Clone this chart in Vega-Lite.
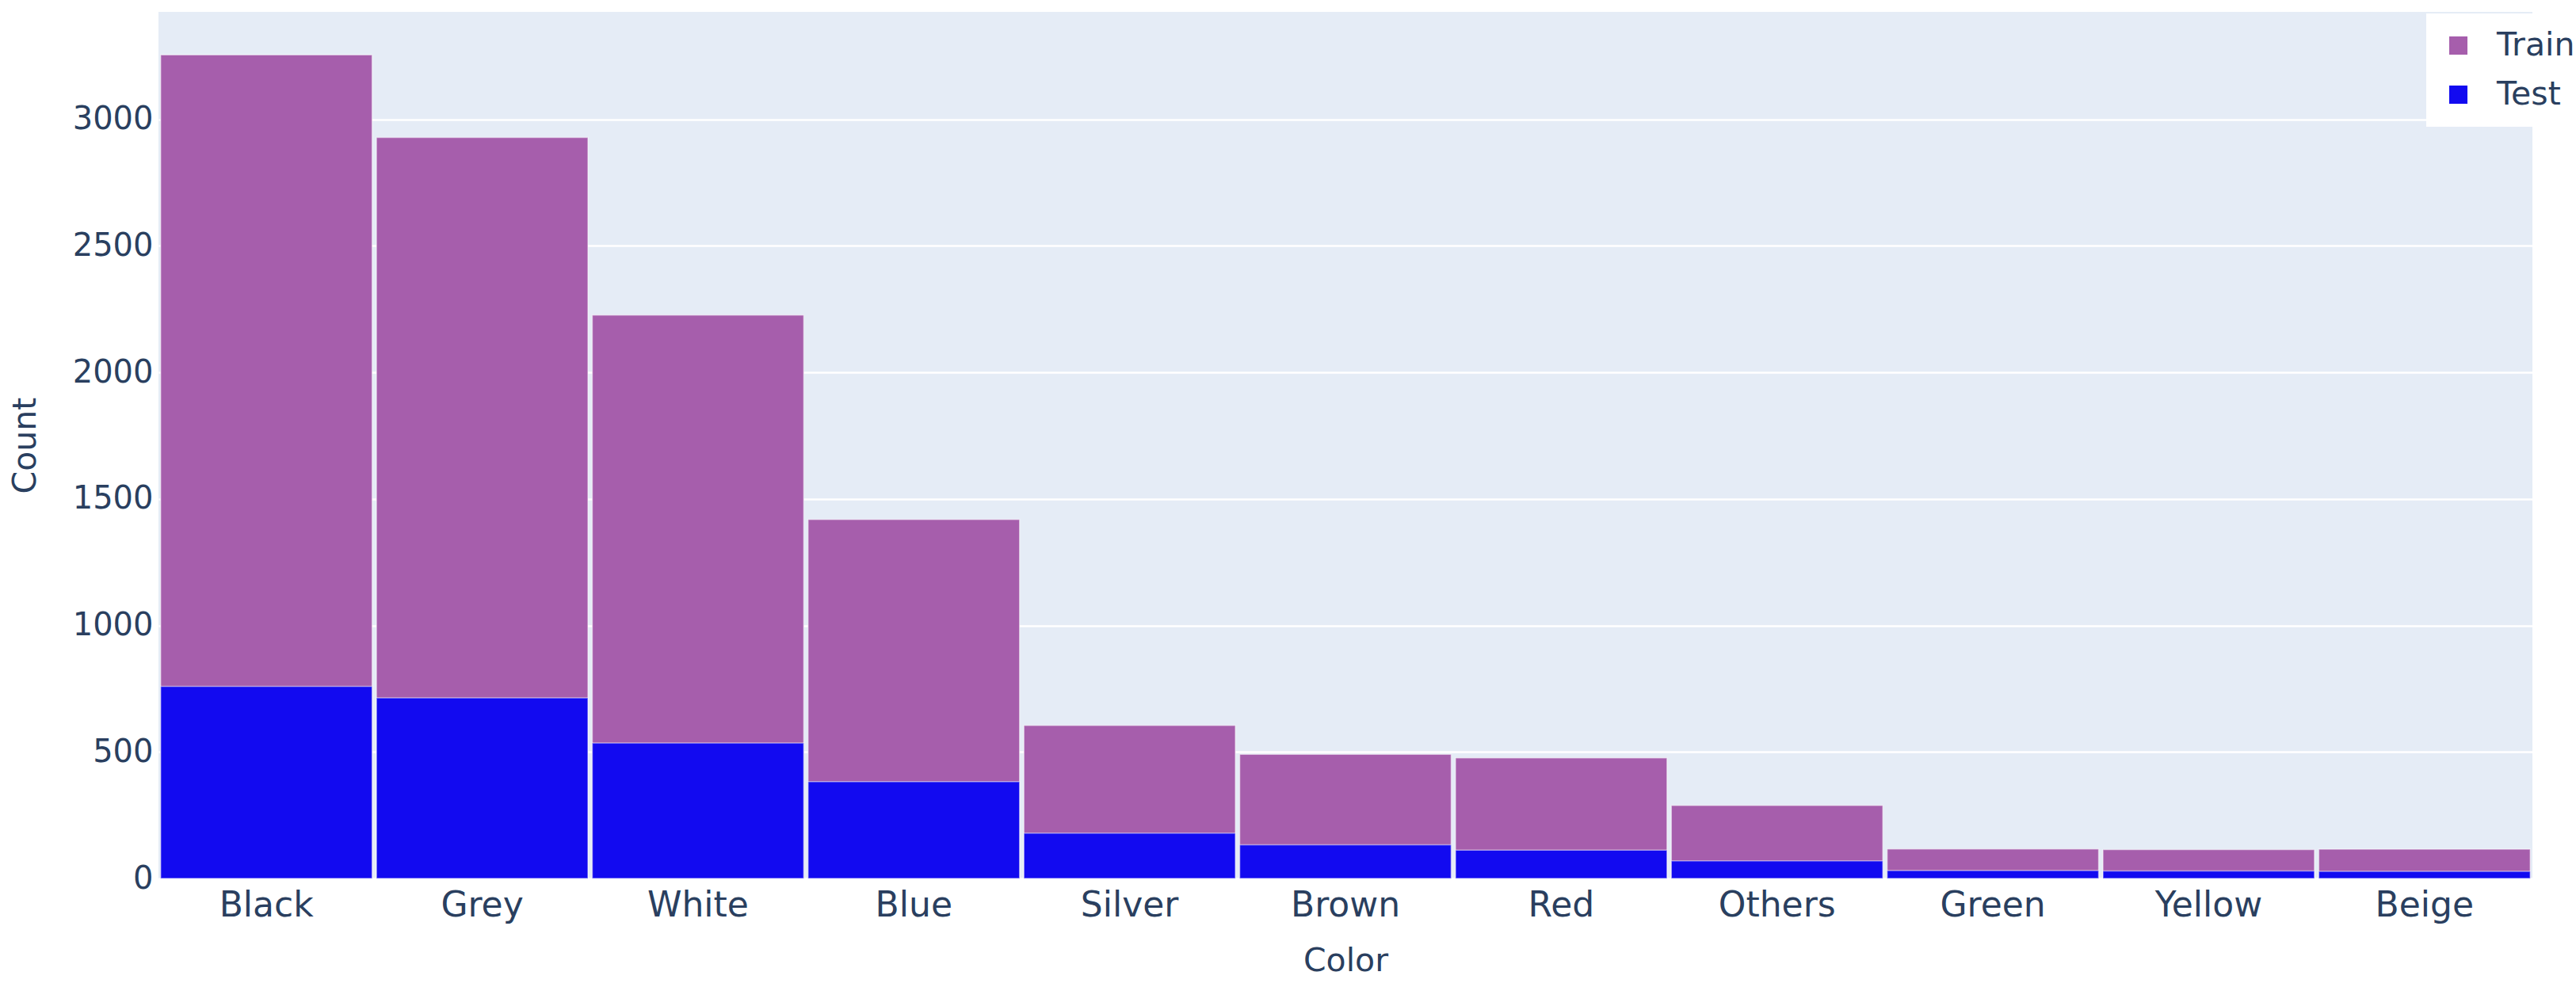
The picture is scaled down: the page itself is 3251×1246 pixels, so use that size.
{
  "$schema": "https://vega.github.io/schema/vega-lite/v6.json",
  "autosize": "none",
  "padding": {"left": 200, "top": 15, "right": 55, "bottom": 137},
  "width": 2996,
  "height": 1094,
  "background": "#ffffff",
  "config": {
    "view": {"fill": "#E5ECF6", "stroke": null},
    "font": "DejaVu Sans"
  },
  "data": {
    "values": [
      {"Color": "Black", "Set": "Train", "Count": 3255},
      {"Color": "Grey", "Set": "Train", "Count": 2929},
      {"Color": "White", "Set": "Train", "Count": 2227},
      {"Color": "Blue", "Set": "Train", "Count": 1419},
      {"Color": "Silver", "Set": "Train", "Count": 605},
      {"Color": "Brown", "Set": "Train", "Count": 491},
      {"Color": "Red", "Set": "Train", "Count": 477},
      {"Color": "Others", "Set": "Train", "Count": 289},
      {"Color": "Green", "Set": "Train", "Count": 117},
      {"Color": "Yellow", "Set": "Train", "Count": 114},
      {"Color": "Beige", "Set": "Train", "Count": 116},
      {"Color": "Black", "Set": "Test", "Count": 759},
      {"Color": "Grey", "Set": "Test", "Count": 714},
      {"Color": "White", "Set": "Test", "Count": 535},
      {"Color": "Blue", "Set": "Test", "Count": 383},
      {"Color": "Silver", "Set": "Test", "Count": 179},
      {"Color": "Brown", "Set": "Test", "Count": 133},
      {"Color": "Red", "Set": "Test", "Count": 112},
      {"Color": "Others", "Set": "Test", "Count": 70},
      {"Color": "Green", "Set": "Test", "Count": 31},
      {"Color": "Yellow", "Set": "Test", "Count": 30},
      {"Color": "Beige", "Set": "Test", "Count": 28}
    ]
  },
  "mark": {"type": "bar", "stroke": "#ffffff", "strokeWidth": 1.5, "strokeOpacity": 0.5},
  "encoding": {
    "x": {
      "field": "Color",
      "type": "nominal",
      "sort": null,
      "scale": {"paddingInner": 0.02, "paddingOuter": 0.01},
      "axis": {
        "title": "Color",
        "labelAngle": 0,
        "labelFontSize": 44,
        "labelColor": "#2a3f5f",
        "labelPadding": 12,
        "titleFontSize": 41,
        "titleFontWeight": "normal",
        "titleColor": "#2a3f5f",
        "titlePadding": 28,
        "domain": false,
        "ticks": false,
        "grid": false
      }
    },
    "y": {
      "field": "Count",
      "type": "quantitative",
      "stack": null,
      "scale": {"domain": [0, 3425], "nice": false},
      "axis": {
        "title": "Count",
        "format": "d",
        "values": [0, 500, 1000, 1500, 2000, 2500, 3000],
        "labelFontSize": 40,
        "labelColor": "#2a3f5f",
        "labelPadding": 7,
        "titleFontSize": 41,
        "titleFontWeight": "normal",
        "titleColor": "#2a3f5f",
        "titlePadding": 38,
        "domain": false,
        "ticks": false,
        "grid": true,
        "gridColor": "#ffffff",
        "gridWidth": 2.6
      }
    },
    "color": {
      "field": "Set",
      "type": "nominal",
      "scale": {"domain": ["Train", "Test"], "range": ["#A65EAC", "#120AF0"]},
      "legend": {
        "title": null,
        "orient": "none",
        "legendX": 2862,
        "legendY": 2,
        "fillColor": "#ffffff",
        "padding": 20,
        "symbolType": "square",
        "symbolSize": 529,
        "symbolStrokeWidth": 0,
        "symbolOpacity": 1,
        "labelFontSize": 41,
        "labelColor": "#2a3f5f",
        "labelOffset": 28,
        "rowPadding": 20
      }
    }
  }
}
